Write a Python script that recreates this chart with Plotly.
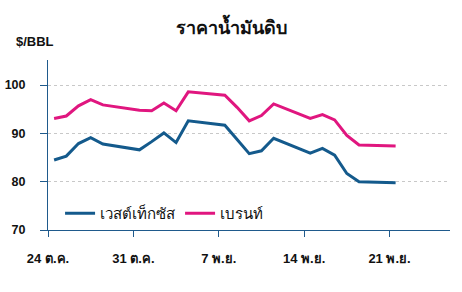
import plotly.graph_objects as go
import pandas as pd

dates = ["2022-10-24", "2022-10-25", "2022-10-26", "2022-10-27", "2022-10-28",
         "2022-10-31", "2022-11-01", "2022-11-02", "2022-11-03", "2022-11-04",
         "2022-11-07", "2022-11-08", "2022-11-09", "2022-11-10", "2022-11-11",
         "2022-11-14", "2022-11-15", "2022-11-16", "2022-11-17", "2022-11-18",
         "2022-11-21"]
wti = [84.5, 85.3, 87.9, 89.1, 87.8,
       86.6, 88.3, 90.1, 88.1, 92.6,
       91.7, 88.8, 85.8, 86.4, 89.0,
       85.9, 86.9, 85.5, 81.7, 80.0,
       79.8]
brent = [93.1, 93.6, 95.7, 97.0, 95.9,
         94.8, 94.7, 96.3, 94.7, 98.6,
         97.9, 95.4, 92.6, 93.7, 96.1,
         93.1, 93.9, 92.8, 89.6, 87.6,
         87.4]
tick_dates = ["2022-10-24", "2022-10-31", "2022-11-07", "2022-11-14", "2022-11-21"]
tick_labels = ["24 ต.ค.", "31 ต.ค.", "7 พ.ย.", "14 พ.ย.", "21 พ.ย."]
y_ticks = [70, 80, 90, 100]

x = pd.to_datetime(dates) + pd.Timedelta(hours=12)

FONT = "Arial, Liberation Sans, sans-serif"
AXIS_COLOR = "#1f5a8c"

fig = go.Figure()
fig.add_trace(go.Scatter(x=x, y=wti, mode="lines", name="เวสต์เท็กซัส",
                         line=dict(color="#145a8c", width=3)))
fig.add_trace(go.Scatter(x=x, y=brent, mode="lines", name="เบรนท์",
                         line=dict(color="#e0167f", width=3)))

fig.update_layout(
    width=462, height=292,
    margin=dict(l=48, r=12, t=60, b=62, autoexpand=False),
    paper_bgcolor="white", plot_bgcolor="white",
    font=dict(family=FONT, color="#111111"),
    title=dict(text="<b>ราคาน้ำมันดิบ</b>", x=0.5, xanchor="center",
               y=0.905, yanchor="middle", font=dict(size=18, color="#111111")),
    showlegend=True,
    legend=dict(orientation="h", x=0.03, y=0.0, xanchor="left", yanchor="bottom",
                bgcolor="rgba(0,0,0,0)", font=dict(size=15, color="#111111"),
                itemwidth=30, tracegroupgap=0),
    xaxis=dict(
        range=["2022-10-24", "2022-11-25 23:00"],
        tickmode="array",
        tickvals=pd.to_datetime(tick_dates),
        ticktext=["<b>" + t + "</b>" for t in tick_labels],
        tickfont=dict(size=13, color="#111111"),
        ticklabelstandoff=10,
        automargin=False,
        showline=True, linecolor=AXIS_COLOR, linewidth=1,
        ticks="outside", tickcolor=AXIS_COLOR, ticklen=6,
        showgrid=False, zeroline=False,
    ),
    yaxis=dict(
        range=[70, 105.2],
        tickmode="array",
        tickvals=y_ticks,
        ticktext=["<b>%d</b>" % v for v in y_ticks],
        tickfont=dict(size=12.5, color="#111111"),
        ticklabelstandoff=12,
        automargin=False,
        showline=True, linecolor=AXIS_COLOR, linewidth=1,
        ticks="outside", tickcolor=AXIS_COLOR, ticklen=7,
        showgrid=True, gridcolor="#c8c8c8", griddash="dot", gridwidth=1,
        zeroline=False,
    ),
    annotations=[dict(text="<b>$/BBL</b>", xref="paper", yref="paper",
                      x=-0.085, y=1.11, xanchor="left", yanchor="middle",
                      showarrow=False, font=dict(size=13, color="#111111"))],
)

fig.write_html("out.html")
